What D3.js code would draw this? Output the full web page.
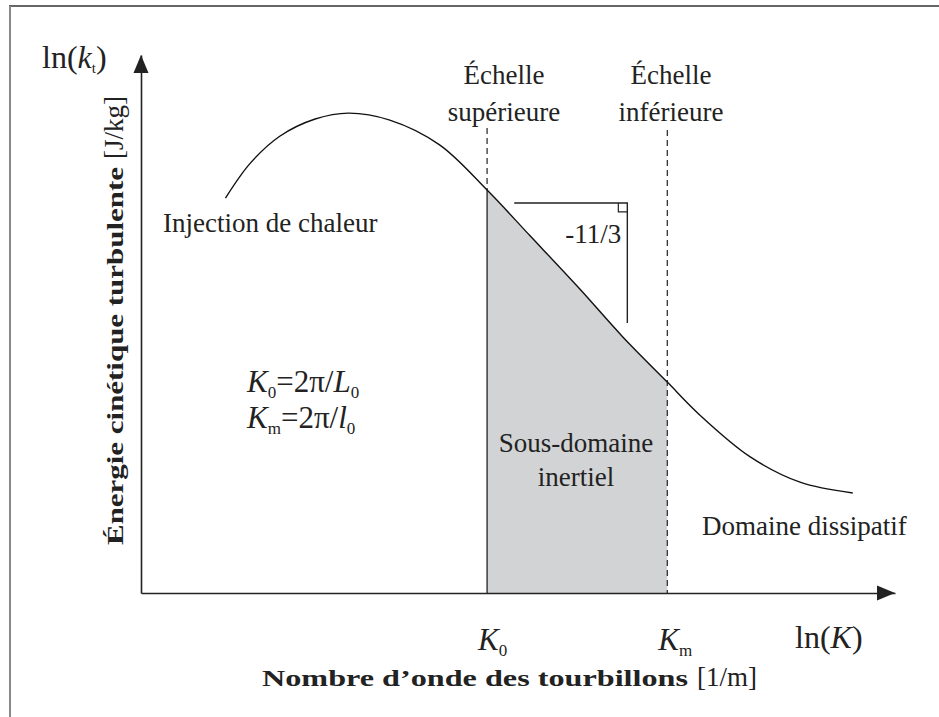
<!DOCTYPE html>
<html>
<head>
<meta charset="utf-8">
<script src="https://cdn.jsdelivr.net/npm/d3@7"></script>
<style>
  body { margin: 0; background: #fff; }
  text { font-family: "Liberation Serif", serif; fill: #222; }
</style>
</head>
<body>
<script>
// curve of the spectrum, ln(K) vs ln(kt), arbitrary units 0..10
var curveX = [1.12, 1.45, 1.84, 2.31, 2.75, 3.30, 3.96, 4.59, 5.16, 5.82, 6.39, 6.98, 7.41, 8.08, 8.74, 9.44];
var curveY = [7.34, 7.99, 8.49, 8.81, 8.92, 8.79, 8.33, 7.49, 6.64, 5.65, 4.76, 3.92, 3.31, 2.53, 2.06, 1.86];

// limits of the inertial sub-range (K0 and Km)
var scaleNames = ["K0", "Km"];
var scaleValues = [4.59, 6.98];

// slope marker -11/3 : horizontal from x0 to x1, vertical from y0 to y1
var slopeX = [4.95, 6.45];
var slopeY = [7.25, 5.02];

var width = 939, height = 717;

var svg = d3.select("body")
  .append("svg")
  .attr("width", width)
  .attr("height", height);

// frame
svg.append("line").attr("x1", 9).attr("y1", 6).attr("x2", width).attr("y2", 6)
  .attr("stroke", "#333").attr("stroke-width", 1.5);
svg.append("line").attr("x1", 10).attr("y1", 6).attr("x2", 10).attr("y2", height)
  .attr("stroke", "#888").attr("stroke-width", 2);

var x = d3.scaleLinear().domain([0, 10]).range([141, 895]);
var y = d3.scaleLinear().domain([0, 10]).range([593, 55]);

var pts = curveX.map(function(d, i) { return [d, curveY[i]]; });

// shaded inertial sub-range
var i0 = curveX.indexOf(scaleValues[0]);
var i1 = curveX.indexOf(scaleValues[1]);
var area = d3.area()
  .x(function(d) { return x(d[0]); })
  .y0(y(0))
  .y1(function(d) { return y(d[1]); })
  .curve(d3.curveCatmullRom);
svg.append("path")
  .datum(pts.slice(i0, i1 + 1))
  .attr("d", area)
  .attr("fill", "#d2d3d5");

// K0 : dashed above the curve, solid below
svg.append("line")
  .attr("x1", x(scaleValues[0])).attr("x2", x(scaleValues[0]))
  .attr("y1", 128).attr("y2", y(curveY[i0]))
  .attr("stroke", "#222").attr("stroke-width", 1.2).attr("stroke-dasharray", "6,4");
svg.append("line")
  .attr("x1", x(scaleValues[0])).attr("x2", x(scaleValues[0]))
  .attr("y1", y(curveY[i0])).attr("y2", y(0))
  .attr("stroke", "#222").attr("stroke-width", 1.3);
// Km : dashed all the way
svg.append("line")
  .attr("x1", x(scaleValues[1])).attr("x2", x(scaleValues[1]))
  .attr("y1", 130).attr("y2", y(0))
  .attr("stroke", "#222").attr("stroke-width", 1.2).attr("stroke-dasharray", "6,4");

// the curve
var line = d3.line()
  .x(function(d) { return x(d[0]); })
  .y(function(d) { return y(d[1]); })
  .curve(d3.curveCatmullRom);
svg.append("path")
  .datum(pts)
  .attr("d", line)
  .attr("fill", "none")
  .attr("stroke", "#111")
  .attr("stroke-width", 1.4);

// axes (no ticks) with arrow heads
svg.append("g")
  .attr("transform", "translate(0," + y(0) + ")")
  .call(d3.axisBottom(x).tickValues([]).tickSizeOuter(0))
  .select(".domain").attr("stroke", "#222").attr("stroke-width", 1.6);
svg.append("g")
  .attr("transform", "translate(" + x(0) + ",0)")
  .call(d3.axisLeft(y).tickValues([]).tickSizeOuter(0))
  .select(".domain").attr("stroke", "#222").attr("stroke-width", 1.6);

svg.append("path")
  .attr("d", "M" + x(10) + "," + y(0) + "l-18,-7.5l0,15z")
  .attr("fill", "#222");
svg.append("path")
  .attr("d", "M" + x(0) + "," + y(10) + "l-7.5,18l15,0z")
  .attr("fill", "#222");

// slope marker
svg.append("path")
  .attr("d", "M" + x(slopeX[0]) + "," + y(slopeY[0]) + "H" + x(slopeX[1]) + "V" + y(slopeY[1]))
  .attr("fill", "none").attr("stroke", "#222").attr("stroke-width", 1.4);
svg.append("path")
  .attr("d", "M" + (x(slopeX[1]) - 9) + "," + y(slopeY[0]) + "v9h9")
  .attr("fill", "none").attr("stroke", "#222").attr("stroke-width", 1.2);
svg.append("text")
  .attr("x", x(slopeX[1]) - 6).attr("y", y(slopeY[0]) + 40)
  .attr("text-anchor", "end")
  .style("font-size", "27px")
  .text("-11/3");

// simple text labels
function label(txt, px, py, anchor) {
  return svg.append("text")
    .attr("x", px).attr("y", py)
    .attr("text-anchor", anchor || "start")
    .style("font-size", "27px")
    .text(txt);
}
label("Échelle", 504, 84, "middle");
label("supérieure", 504, 121, "middle");
label("Échelle", 671, 84, "middle");
label("inférieure", 671, 121, "middle");
label("Injection de chaleur", 163, 232);
label("Sous-domaine", 576, 452, "middle");
label("inertiel", 576, 486, "middle");
label("Domaine dissipatif", 702, 535);

// math labels: italic K with subscript
function kLabel(px, py, sub, rest, size) {
  var t = svg.append("text").attr("x", px).attr("y", py).style("font-size", size + "px");
  t.append("tspan").style("font-style", "italic").text("K");
  t.append("tspan").attr("dy", 6).style("font-size", (size * 0.55) + "px").text(sub);
  t.append("tspan").attr("dy", -6).text(rest[0] || "");
  if (rest[1]) {
    t.append("tspan").style("font-style", "italic").text(rest[1]);
    t.append("tspan").attr("dy", 6).style("font-size", (size * 0.55) + "px").text(rest[2]);
  }
  return t;
}
kLabel(247, 392, "0", ["=2π/", "L", "0"], 31);
kLabel(247, 428, "m", ["=2π/", "l", "0"], 31);
kLabel(x(scaleValues[0]) - 9, 650, "0", [], 31);
kLabel(x(scaleValues[1]) - 9, 650, "m", [], 31);

// ln(K) on the x axis
var lk = svg.append("text").attr("x", 795).attr("y", 648).style("font-size", "32px");
lk.append("tspan").text("ln(");
lk.append("tspan").style("font-style", "italic").text("K");
lk.append("tspan").text(")");

// ln(kt) on the y axis
var lt = svg.append("text").attr("x", 42).attr("y", 68).style("font-size", "32px");
lt.append("tspan").text("ln(");
lt.append("tspan").style("font-style", "italic").text("k");
lt.append("tspan").attr("dy", 5).style("font-size", "15px").text("t");
lt.append("tspan").attr("dy", -5).text(")");

// axis titles: bold part stretched like an extended bold face
svg.append("text")
  .attr("x", 262).attr("y", 686)
  .attr("textLength", 426).attr("lengthAdjust", "spacingAndGlyphs")
  .style("font-size", "24px").style("font-weight", "bold")
  .text("Nombre d’onde des tourbillons");
svg.append("text")
  .attr("x", 697).attr("y", 686)
  .style("font-size", "27px")
  .text("[1/m]");

svg.append("text")
  .attr("transform", "translate(123,545) rotate(-90)")
  .attr("textLength", 378).attr("lengthAdjust", "spacingAndGlyphs")
  .style("font-size", "24px").style("font-weight", "bold")
  .text("Énergie cinétique turbulente");
svg.append("text")
  .attr("transform", "translate(123,159) rotate(-90)")
  .style("font-size", "27px")
  .text("[J/kg]");
</script>
</body>
</html>
